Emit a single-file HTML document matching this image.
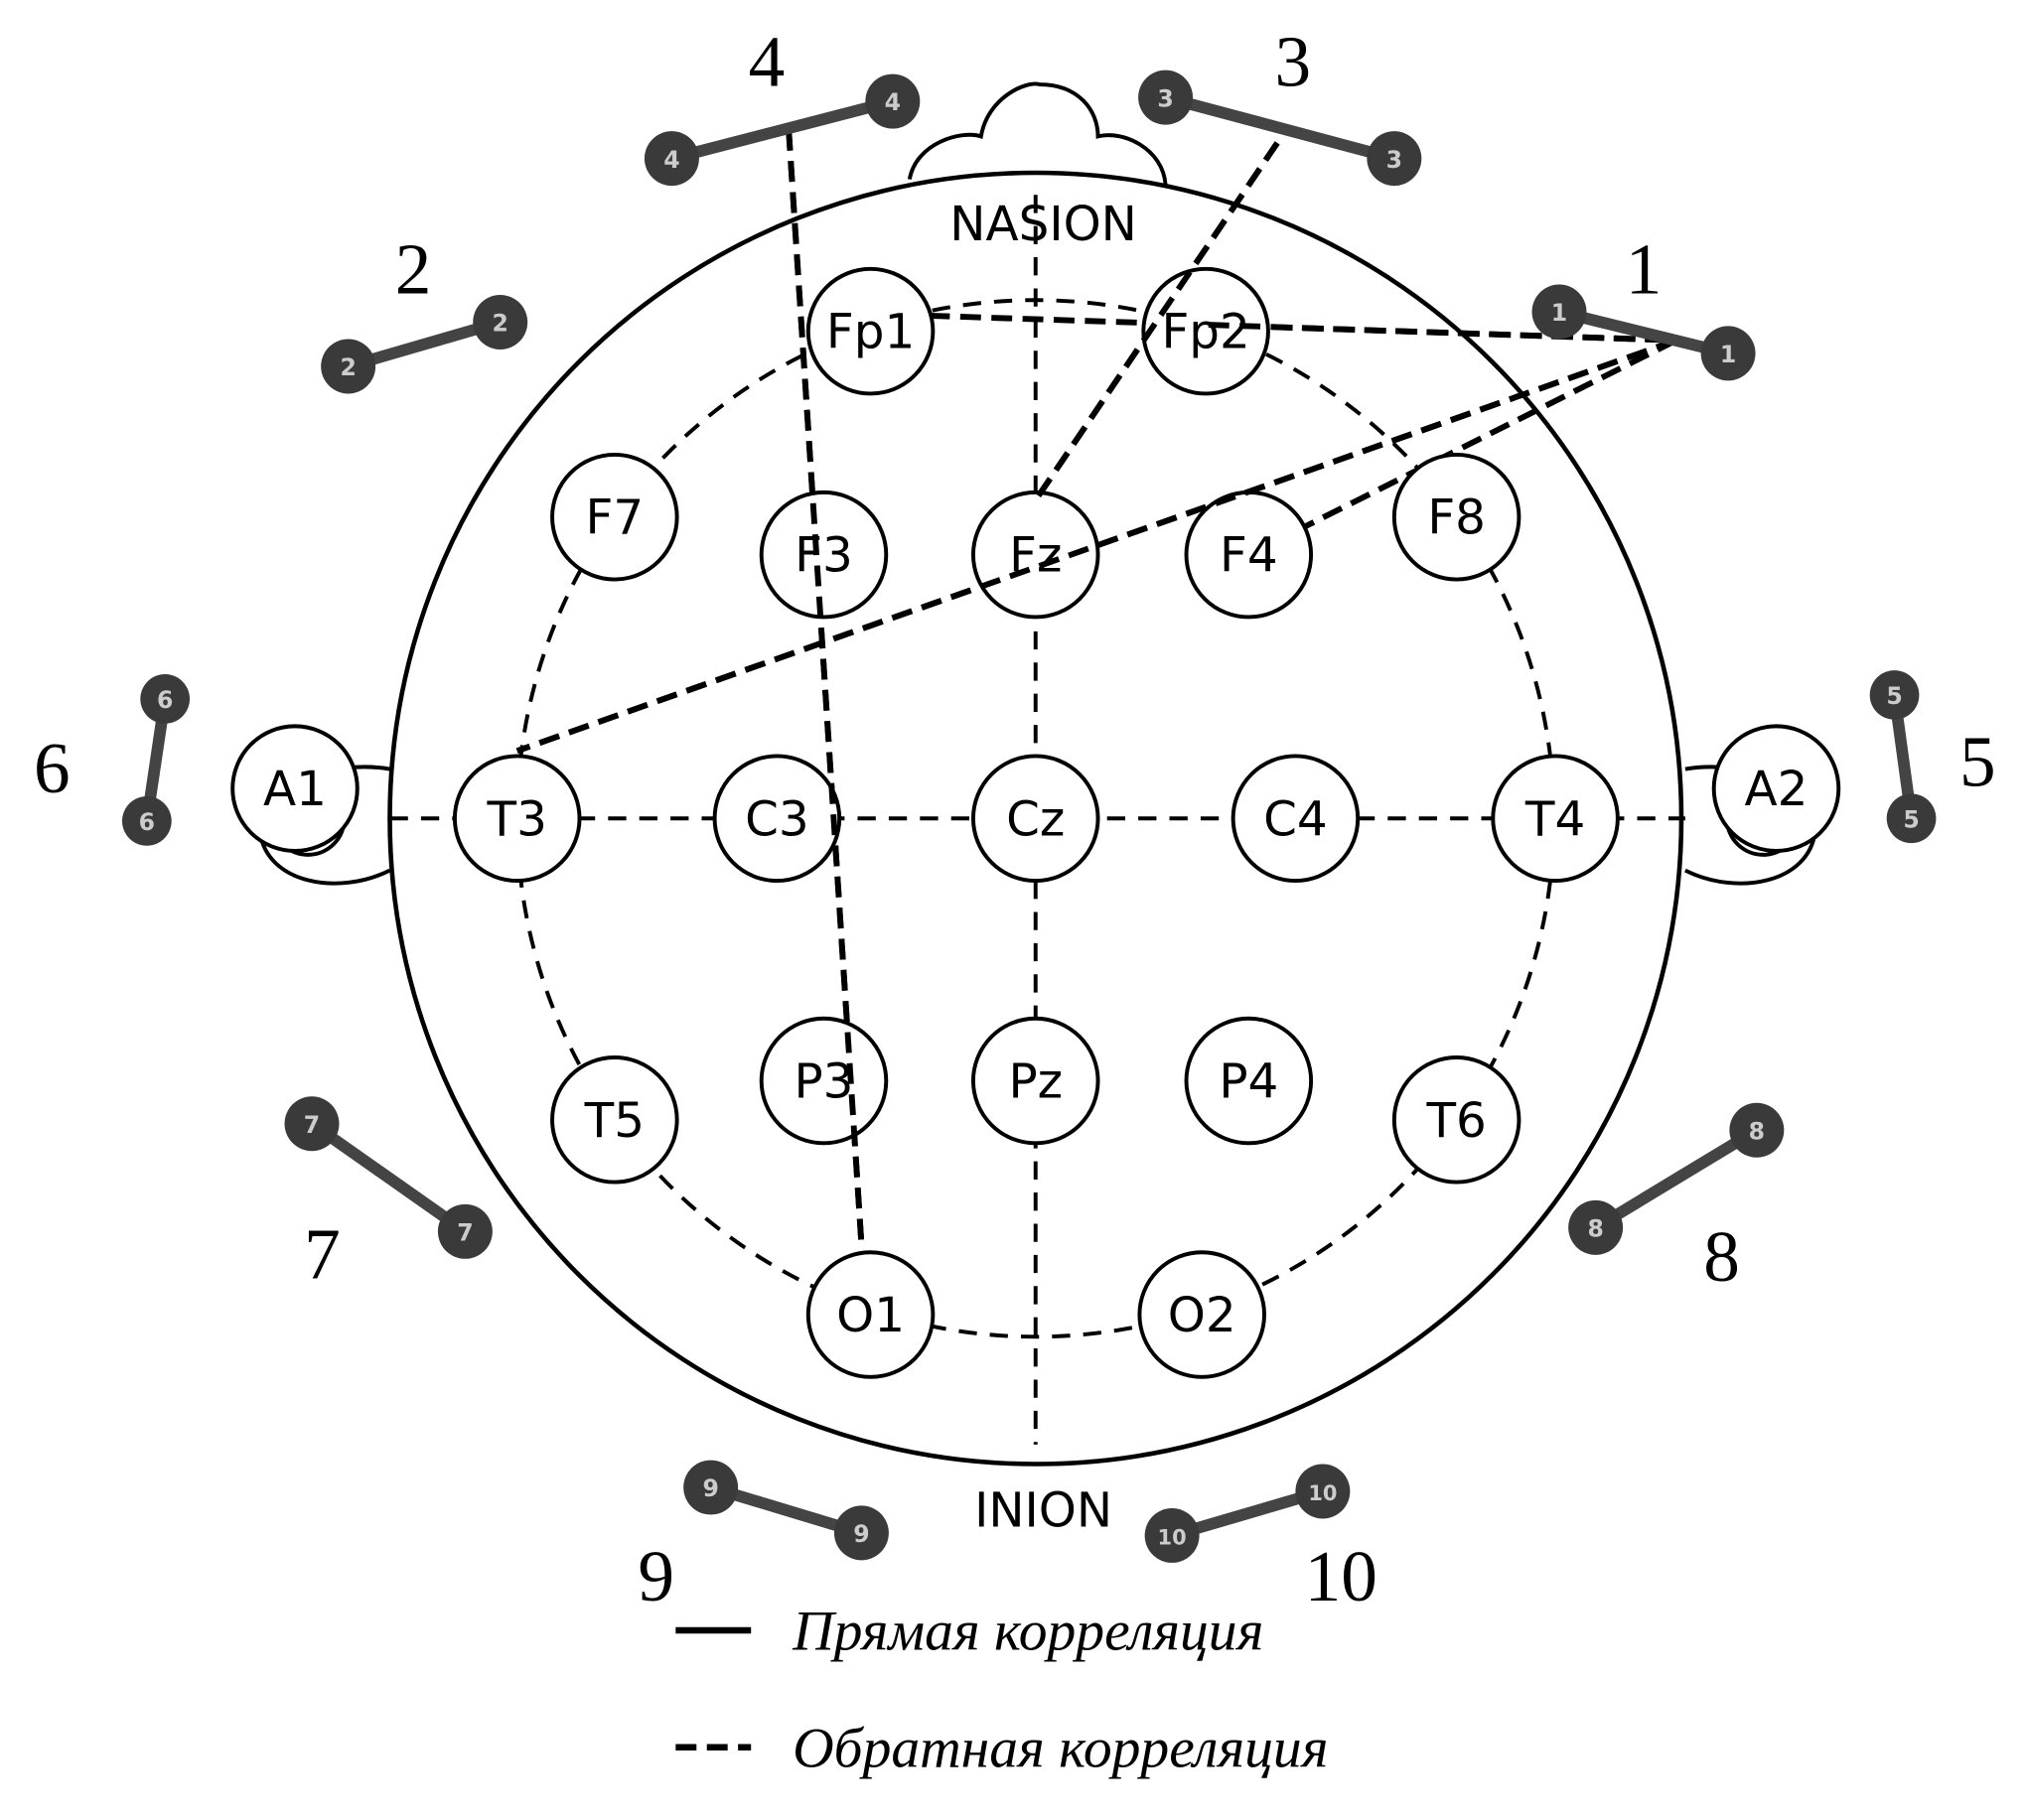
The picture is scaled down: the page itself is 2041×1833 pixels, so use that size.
<!DOCTYPE html>
<html><head><meta charset="utf-8"><style>
html,body{margin:0;padding:0;background:#fff}
svg{display:block}
</style></head><body>
<svg width="2041" height="1833" viewBox="0 0 1560 1401" xmlns="http://www.w3.org/2000/svg">
<rect width="1560" height="1401" fill="#fff"/>
<path d="M700,138 C705,110 740,100 755,105 C760,75 790,62 800,65 C830,65 845,85 845,105 C865,100 895,115 897,142" fill="#fff" stroke="#000" stroke-width="3"/>
<path d="M300,592 C260,585 205,600 200,640 C205,680 260,690 300,670" fill="#fff" stroke="#000" stroke-width="3"/>
<path d="M1297,592 C1337,585 1392,600 1397,640 C1392,680 1337,690 1297,670" fill="#fff" stroke="#000" stroke-width="3"/>
<circle cx="237" cy="630" r="28" fill="#fff" stroke="#000" stroke-width="3"/>
<circle cx="1357" cy="630" r="28" fill="#fff" stroke="#000" stroke-width="3"/>
<circle cx="797" cy="630" r="497" fill="#fff" stroke="#000" stroke-width="3.5"/>
<g fill="none" stroke="#000" stroke-width="3" stroke-dasharray="14,10">
<circle cx="797" cy="630" r="399"/>
<line x1="797" y1="150" x2="797" y2="1112"/>
<line x1="300" y1="630" x2="1297" y2="630"/>
</g>
<g fill="none" stroke="#000" stroke-width="4.5" stroke-dasharray="16,8">
<line x1="607" y1="100" x2="663" y2="958"/>
<line x1="983" y1="110" x2="797" y2="385"/>
<line x1="715" y1="243" x2="1290" y2="262"/>
<line x1="1290" y1="262" x2="398" y2="578"/>
<line x1="1290" y1="262" x2="1005" y2="405"/>
</g>
<g fill="#fff" stroke="#000" stroke-width="3">
<circle cx="670" cy="255" r="48"/><circle cx="928" cy="255" r="48"/>
<circle cx="473" cy="398" r="48"/><circle cx="634" cy="427" r="48"/><circle cx="797" cy="427" r="48"/><circle cx="961" cy="427" r="48"/><circle cx="1121" cy="398" r="48"/>
<circle cx="227" cy="607" r="48"/><circle cx="398" cy="630" r="48"/><circle cx="598" cy="630" r="48"/><circle cx="797" cy="630" r="48"/><circle cx="997" cy="630" r="48"/><circle cx="1197" cy="630" r="48"/><circle cx="1367" cy="607" r="48"/>
<circle cx="473" cy="862" r="48"/><circle cx="634" cy="832" r="48"/><circle cx="797" cy="832" r="48"/><circle cx="961" cy="832" r="48"/><circle cx="1121" cy="862" r="48"/>
<circle cx="670" cy="1012" r="48"/><circle cx="925" cy="1012" r="48"/>
</g>
<g fill="none" stroke="#000" stroke-width="4.5" stroke-dasharray="16,8">
<line x1="607" y1="100" x2="663" y2="958"/>
<line x1="983" y1="110" x2="797" y2="385"/>
<line x1="1290" y1="262" x2="398" y2="578"/>
<line x1="930" y1="250" x2="1290" y2="262"/>
</g>
<g font-family="'DejaVu Sans','Liberation Sans',sans-serif" font-size="37" text-anchor="middle" fill="#000">
<text x="670" y="268">Fp1</text><text x="928" y="268">Fp2</text>
<text x="473" y="411">F7</text><text x="634" y="440">F3</text><text x="797" y="440">Fz</text><text x="961" y="440">F4</text><text x="1121" y="411">F8</text>
<text x="227" y="620">A1</text><text x="398" y="643">T3</text><text x="598" y="643">C3</text><text x="797" y="643">Cz</text><text x="997" y="643">C4</text><text x="1197" y="643">T4</text><text x="1367" y="620">A2</text>
<text x="473" y="875">T5</text><text x="634" y="845">P3</text><text x="797" y="845">Pz</text><text x="961" y="845">P4</text><text x="1121" y="875">T6</text>
<text x="670" y="1025">O1</text><text x="925" y="1025">O2</text>
<text x="803" y="185">NASION</text><text x="803" y="1175">INION</text>
</g>
<g stroke="#444" stroke-width="9">
<line x1="1200" y1="240" x2="1330" y2="272"/>
<line x1="268" y1="282" x2="385" y2="248"/>
<line x1="897" y1="75" x2="1073" y2="122"/>
<line x1="517" y1="122" x2="687" y2="78"/>
<line x1="1458" y1="535" x2="1471" y2="630"/>
<line x1="127" y1="538" x2="113" y2="632"/>
<line x1="240" y1="865" x2="358" y2="948"/>
<line x1="1228" y1="945" x2="1352" y2="870"/>
<line x1="547" y1="1145" x2="663" y2="1180"/>
<line x1="902" y1="1182" x2="1018" y2="1148"/>
</g>
<g fill="#3a3a3a">
<circle cx="1200" cy="240" r="21"/><circle cx="1330" cy="272" r="21"/>
<circle cx="268" cy="282" r="21"/><circle cx="385" cy="248" r="21"/>
<circle cx="897" cy="75" r="21"/><circle cx="1073" cy="122" r="21"/>
<circle cx="517" cy="122" r="21"/><circle cx="687" cy="78" r="21"/>
<circle cx="1458" cy="535" r="19"/><circle cx="1471" cy="630" r="19"/>
<circle cx="127" cy="538" r="19"/><circle cx="113" cy="632" r="19"/>
<circle cx="240" cy="865" r="21"/><circle cx="358" cy="948" r="21"/>
<circle cx="1228" cy="945" r="21"/><circle cx="1352" cy="870" r="21"/>
<circle cx="547" cy="1145" r="21"/><circle cx="663" cy="1180" r="21"/>
<circle cx="902" cy="1182" r="21"/><circle cx="1018" cy="1148" r="21"/>
</g>
<g font-family="'DejaVu Sans','Liberation Sans',sans-serif" font-size="18" font-weight="bold" text-anchor="middle" fill="#ccc">
<text x="1200" y="247">1</text><text x="1330" y="279">1</text>
<text x="268" y="289">2</text><text x="385" y="255">2</text>
<text x="897" y="82">3</text><text x="1073" y="129">3</text>
<text x="517" y="129">4</text><text x="687" y="85">4</text>
<text x="1458" y="542">5</text><text x="1471" y="637">5</text>
<text x="127" y="545">6</text><text x="113" y="639">6</text>
<text x="240" y="872">7</text><text x="358" y="955">7</text>
<text x="1228" y="952">8</text><text x="1352" y="877">8</text>
<text x="547" y="1152">9</text><text x="663" y="1187">9</text>
<text x="902" y="1189" font-size="16">10</text><text x="1018" y="1155" font-size="16">10</text>
</g>
<g font-family="'Liberation Serif',serif" font-size="56" text-anchor="middle" fill="#000">
<text x="590" y="66">4</text><text x="995" y="66">3</text>
<text x="318" y="226">2</text><text x="1265" y="226">1</text>
<text x="40" y="610">6</text><text x="1522" y="605">5</text>
<text x="248" y="984">7</text><text x="1325" y="986">8</text>
<text x="505" y="1232">9</text><text x="1032" y="1232">10</text>
</g>
<line x1="520" y1="1255" x2="578" y2="1255" stroke="#000" stroke-width="5"/>
<line x1="520" y1="1345" x2="578" y2="1345" stroke="#000" stroke-width="5" stroke-dasharray="16,8"/>
<g font-family="'Liberation Serif',serif" font-style="italic" font-size="44" fill="#000">
<text x="610" y="1270">Прямая корреляция</text>
<text x="610" y="1360">Обратная корреляция</text>
</g>
</svg>
</body></html>
